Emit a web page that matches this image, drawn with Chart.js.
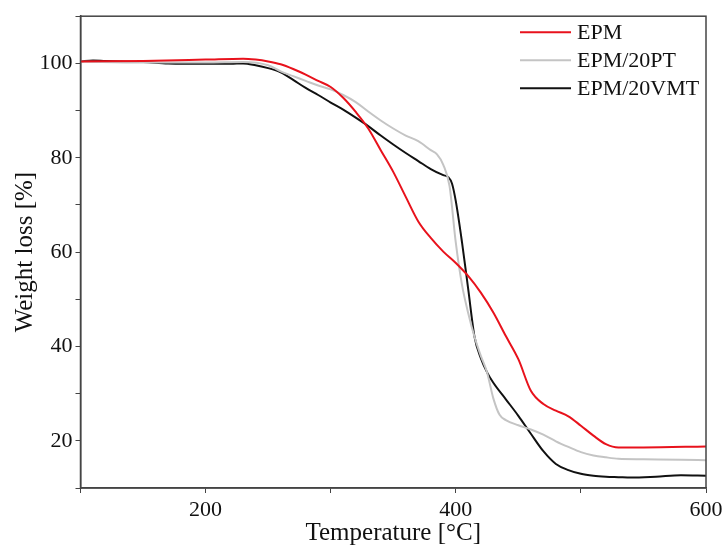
<!DOCTYPE html>
<html>
<head>
<meta charset="utf-8">
<script src="https://cdn.jsdelivr.net/npm/chart.js@4"></script>
<style>
  html, body { margin: 0; padding: 0; background: #fff; }
  #wrap { width: 723px; height: 546px; }
</style>
</head>
<body>
<div id="wrap"><canvas id="tgaChart" width="723" height="546"></canvas></div>
<script>
"use strict"

// values (temperature in °C, weight in %)
const seriesNames = ['EPM', 'EPM/20PT', 'EPM/20VMT'];

const epmTemp = [100, 150, 200, 230, 240, 250, 260, 270, 280, 290, 300, 310, 320, 330, 340, 350, 360, 370, 380, 390, 400, 410, 420, 430, 440, 450, 460, 470, 480, 490, 500, 510, 520, 530, 550, 600];
const epmWeight = [100.4, 100.5, 100.8, 101, 100.8, 100.4, 99.8, 98.8, 97.6, 96.3, 95, 92.7, 89.7, 86.2, 81.6, 77, 71.7, 66.5, 63, 60.1, 57.7, 54.9, 51.4, 47.2, 42.2, 37.3, 30.6, 27.8, 26.4, 25.2, 23.2, 21.1, 19.3, 18.6, 18.6, 18.8];

const ptTemp = [100, 150, 200, 230, 250, 260, 270, 280, 290, 300, 310, 320, 330, 340, 350, 360, 370, 380, 385, 390, 395, 400, 405, 410, 415, 420, 425, 430, 435, 440, 450, 460, 470, 480, 490, 500, 510, 520, 530, 550, 580, 600];
const ptWeight = [100.4, 100.2, 100.2, 100.3, 99.6, 98.3, 97.3, 96.3, 95.3, 94.5, 93.3, 91.8, 89.8, 87.9, 86.2, 84.7, 83.5, 81.6, 80.7, 78.5, 74, 62, 53, 47, 42, 38, 34.5, 29, 25.5, 24.4, 23.3, 22.4, 21.3, 19.9, 18.7, 17.6, 16.9, 16.5, 16.2, 16.1, 16, 15.9];

const vmtTemp = [100, 110, 120, 150, 170, 200, 220, 230, 240, 250, 260, 270, 280, 290, 300, 310, 320, 330, 340, 350, 360, 370, 380, 390, 394, 397, 400, 405, 410, 415, 420, 425, 430, 440, 450, 460, 470, 480, 490, 500, 510, 520, 530, 540, 560, 580, 600];
const vmtWeight = [100.4, 100.6, 100.5, 100.3, 100, 99.9, 99.9, 100, 99.6, 99, 98.1, 96.5, 94.8, 93.3, 91.7, 90.2, 88.5, 86.7, 84.7, 82.8, 81, 79.3, 77.6, 76.3, 75.9, 74.5, 70.8, 62, 52, 42, 37.5, 34.5, 32.3, 28.8, 25.3, 21.5, 17.8, 15.1, 13.8, 13, 12.6, 12.4, 12.3, 12.2, 12.4, 12.7, 12.6];

const xLabelTicks = [200, 400, 600];
const yLabelTicks = [20, 40, 60, 80, 100];

const lineColors = ['#e8121c', '#c4c4c4', '#111111'];
const serif = 'Liberation Serif, Times New Roman, serif';

function toPoints(xs, ys) {
  return xs.map((x, i) => ({ x: x, y: ys[i] }));
}

// white page, frame round the plot, legend inside top right
const framePlugin = {
  id: 'frame',
  beforeDraw(chart) {
    const ctx = chart.ctx;
    ctx.save();
    ctx.fillStyle = '#fff';
    ctx.fillRect(0, 0, chart.width, chart.height);
    ctx.restore();
  },
  afterDraw(chart) {
    const ctx = chart.ctx;
    const a = chart.chartArea;
    ctx.save();
    ctx.strokeStyle = '#444';
    ctx.lineWidth = 1.5;
    ctx.strokeRect(a.left, a.top, a.right - a.left, a.bottom - a.top);

    // legend
    ctx.font = '22px ' + serif;
    ctx.textBaseline = 'middle';
    chart.data.datasets.forEach((ds, i) => {
      let y = a.top + 16 + i * 28;
      ctx.strokeStyle = ds.borderColor;
      ctx.lineWidth = 2;
      ctx.beginPath();
      ctx.moveTo(a.right - 186, y);
      ctx.lineTo(a.right - 135, y);
      ctx.stroke();
      ctx.fillStyle = '#111';
      ctx.fillText(ds.label, a.right - 129, y + 1);
    });
    ctx.restore();
  }
};

let datasets = [
  { label: seriesNames[0], data: toPoints(epmTemp, epmWeight) },
  { label: seriesNames[1], data: toPoints(ptTemp, ptWeight) },
  { label: seriesNames[2], data: toPoints(vmtTemp, vmtWeight) }
].map((ds, i) => Object.assign(ds, {
  borderColor: lineColors[i],
  backgroundColor: lineColors[i],
  borderWidth: 2,
  pointRadius: 0,
  cubicInterpolationMode: 'monotone',
  fill: false
}));

let ctx = document.getElementById('tgaChart').getContext('2d');
let tgaChart = new Chart(ctx, {
  type: 'line',
  data: { datasets: datasets },
  plugins: [framePlugin],
  options: {
    responsive: false,
    animation: false,
    layout: { padding: { left: 0, top: 16, right: 17, bottom: 0 } },
    plugins: {
      legend: { display: false },
      tooltip: { enabled: false }
    },
    scales: {
      x: {
        type: 'linear',
        min: 100,
        max: 600,
        afterFit: (scale) => {
          scale.height = 58;
          scale.paddingLeft = 0;
          scale.paddingRight = 0;
        },
        border: { color: '#444', width: 1.5 },
        grid: { drawOnChartArea: false, tickLength: 5, tickColor: '#444' },
        ticks: {
          stepSize: 100,
          padding: 4,
          color: '#111',
          maxRotation: 0,
          font: { family: serif, size: 22 },
          callback: (v) => xLabelTicks.includes(v) ? String(v) : ''
        },
        title: {
          display: true,
          text: 'Temperature [°C]',
          color: '#111',
          padding: { top: 0, bottom: 0 },
          font: { family: serif, size: 25, lineHeight: 1 }
        }
      },
      y: {
        min: 10,
        max: 110,
        afterFit: (scale) => { scale.width = 80.5; },
        border: { color: '#444', width: 1.5 },
        grid: { drawOnChartArea: false, tickLength: 5, tickColor: '#444' },
        ticks: {
          stepSize: 10,
          padding: 3,
          color: '#111',
          font: { family: serif, size: 22 },
          callback: (v) => yLabelTicks.includes(v) ? String(v) : ''
        },
        title: {
          display: true,
          text: 'Weight loss [%]',
          color: '#111',
          padding: { top: 13, bottom: 0 },
          font: { family: serif, size: 25, lineHeight: 1 }
        }
      }
    }
  }
});
</script>
</body>
</html>
